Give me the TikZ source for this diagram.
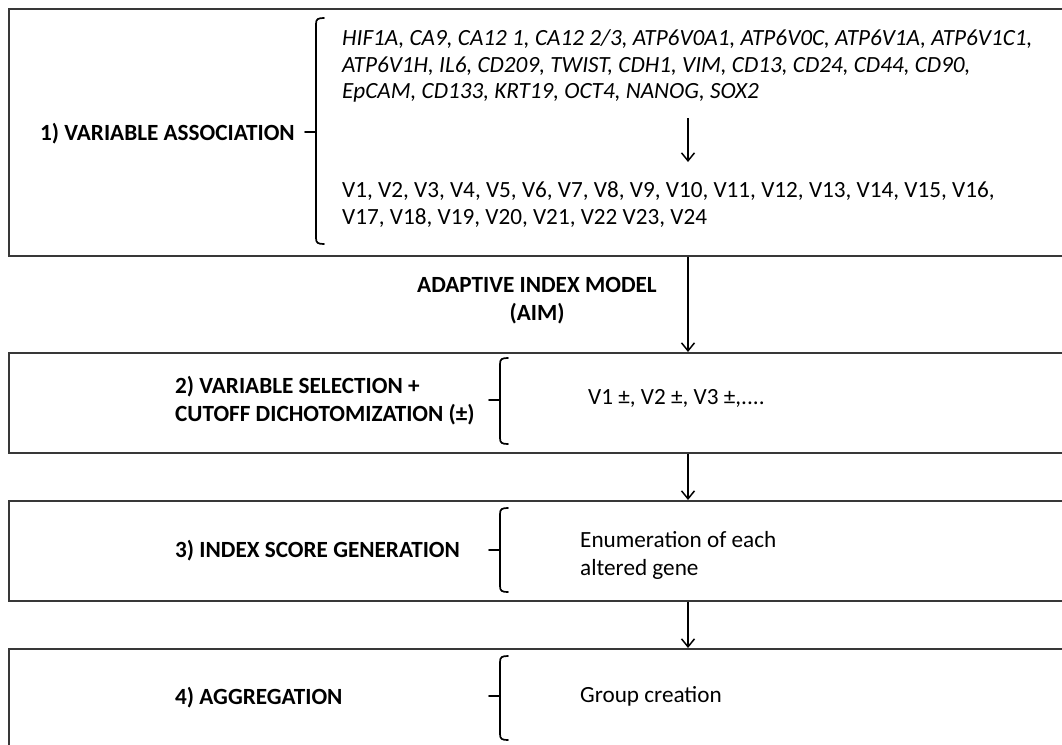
\documentclass[tikz,border=0pt]{standalone}
\usepackage{fontspec}
\setmainfont{Carlito}
\usetikzlibrary{arrows.meta}
\newcommand{\mybrc}[4]{% x, top, mid, bottom
  \draw[bracestyle] (#1+8,#2) .. controls (#1+2,#2) and (#1,#2+1) .. (#1,#2+6) -- (#1,#4-6) .. controls (#1,#4-1) and (#1+2,#4) .. (#1+8,#4);
  \draw[bracestyle] (#1,#3) -- (#1-11,#3);
}
\tikzset{
  box/.style={draw=black!78, line width=1.5pt, anchor=north west, minimum width=1080pt, inner sep=0pt},
  bracestyle/.style={draw=black, line width=1.7pt, line cap=round},
  arr/.style={draw=black, line width=1.5pt, -{Straight Barb[length=8pt,width=13pt,line width=1.5pt]}},
  txt/.style={anchor=base west, inner sep=0pt, font=\fontsize{23.2}{28}\selectfont},
  gene/.style={txt, font=\fontsize{23.2}{28}\selectfont\itshape},
  lab/.style={anchor=base west, inner sep=0pt, font=\fontsize{23.2}{28}\selectfont\bfseries},
  labc/.style={anchor=base, inner sep=0pt, font=\fontsize{23.2}{28}\selectfont\bfseries},
}
\begin{document}
\begin{tikzpicture}[x=1pt,y=-1pt]
\useasboundingbox (0,0) rectangle (1062,744);
\fill[white] (0,0) rectangle (1062,744);
% boxes
\node[box, minimum height=247pt] (b1) at (8,8) {};
\node[box, minimum height=100pt] (b2) at (8,352) {};
\node[box, minimum height=100pt] (b3) at (8,500) {};
\node[box, minimum height=130pt] (b4) at (8,648) {};
\coordinate (ax) at (688,0);
% box 1
\node[lab] (l1) at (40,140) {1) VARIABLE ASSOCIATION};
\mybrc{316}{18}{132}{244}
\node[gene] (g1) at (342,45) {HIF1A, CA9, CA12 1, CA12 2/3, ATP6V0A1, ATP6V0C, ATP6V1A, ATP6V1C1,};
\node[gene] (g2) at (342,72) {ATP6V1H, IL6, CD209, TWIST, CDH1, VIM, CD13, CD24, CD44, CD90,};
\node[gene] (g3) at (342,98) {EpCAM, CD133, KRT19, OCT4, NANOG, SOX2};
\node[txt] (v1) at (342,197) {V1, V2, V3, V4, V5, V6, V7, V8, V9, V10, V11, V12, V13, V14, V15, V16,};
\node[txt] (v2) at (342,224) {V17, V18, V19, V20, V21, V22 V23, V24};
\coordinate (ia) at (688,118);
\coordinate (ib) at (688,162);
\draw[arr] (ia) -- (ib);
% AIM
\node[labc] (aim1) at (537,292) {ADAPTIVE INDEX MODEL};
\node[labc] (aim2) at (537,320) {(AIM)};
\draw[arr] (b1.south -| ax) -- (b2.north -| ax);
% box 2
\node[lab] (l2a) at (175,393) {2) VARIABLE SELECTION +};
\node[lab] (l2b) at (175,421) {CUTOFF DICHOTOMIZATION (±)};
\mybrc{500}{358}{400}{444}
\node[txt] (t2) at (588,404) {V1 ±, V2 ±, V3 ±,....};
\draw[arr] (b2.south -| ax) -- (b3.north -| ax);
% box 3
\node[lab] (l3) at (175,557) {3) INDEX SCORE GENERATION};
\mybrc{500}{508}{550}{592}
\node[txt] (t3a) at (580,547) {Enumeration of each};
\node[txt] (t3b) at (580,575) {altered gene};
\draw[arr] (b3.south -| ax) -- (b4.north -| ax);
% box 4
\node[lab] (l4) at (175,704) {4) AGGREGATION};
\mybrc{500}{656}{696}{740}
\node[txt] (t4) at (580,702) {Group creation};
\end{tikzpicture}
\end{document}
